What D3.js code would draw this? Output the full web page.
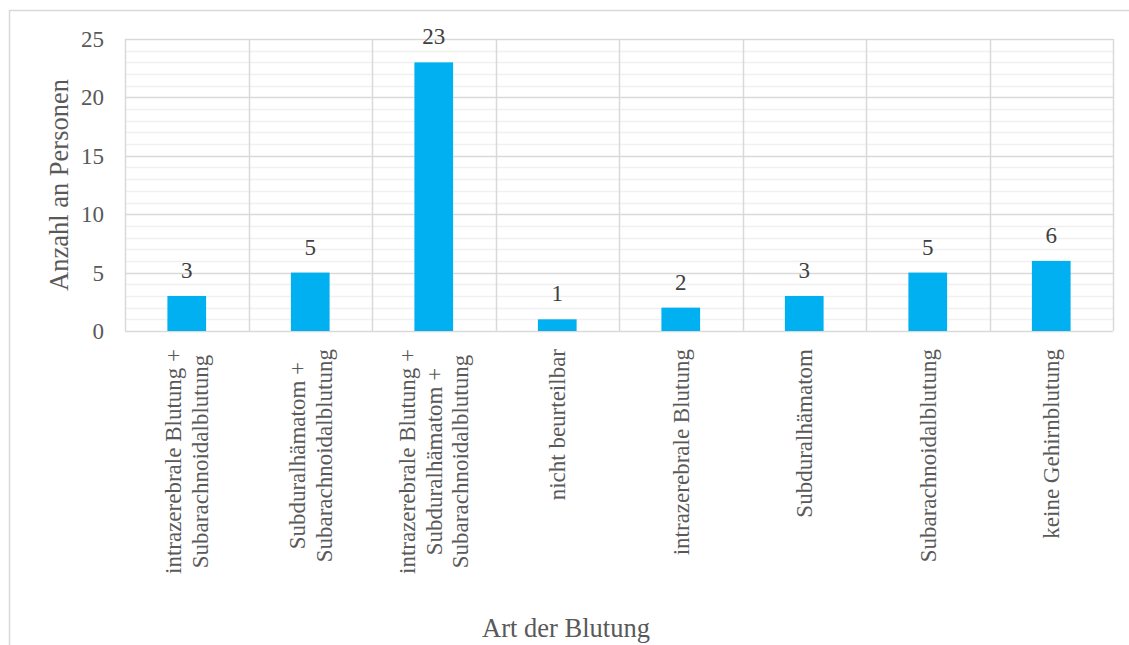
<!DOCTYPE html>
<meta charset="utf-8">
<script src="https://cdn.jsdelivr.net/npm/d3@7"></script>
<style>
  body { margin: 0; background: #fff; }
  text { font-family: "Liberation Serif", "Times New Roman", serif; fill: #595959; }
  .tick { font-size: 23px; }
  .val { font-size: 23px; text-anchor: middle; fill: #404040; }
  .cat { font-size: 23px; text-anchor: middle; }
  .title { font-size: 26.5px; text-anchor: middle; }
</style>
<svg width="1129" height="645"></svg>
<script>

// data
const categories = [
  ["intrazerebrale Blutung +", "Subarachnoidalblutung"],
  ["Subduralhämatom +", "Subarachnoidalblutung"],
  ["intrazerebrale Blutung +", "Subduralhämatom +", "Subarachnoidalblutung"],
  ["nicht beurteilbar"],
  ["intrazerebrale Blutung"],
  ["Subduralhämatom"],
  ["Subarachnoidalblutung"],
  ["keine Gehirnblutung"]
]
const counts = [3, 5, 23, 1, 2, 3, 5, 6]
const yTicks = [0, 5, 10, 15, 20, 25]

const svg = d3.select("svg")

// outer chart border (cut off at right / bottom)
svg.append("path")
  .attr("d", "M9.5,645 V10.5 H1129")
  .attr("fill", "none")
  .attr("stroke", "#d9d9d9")
  .attr("stroke-width", 1.5)

const m = {left: 125, top: 39, right: 1113, bottom: 331}
const idx = d3.range(categories.length)

const x = d3.scaleBand()
  .domain(idx)
  .range([m.left, m.right])
  .paddingInner(0.6866)
  .paddingOuter(0.3433)

const xBand = d3.scaleBand().domain(idx).range([m.left, m.right])

const y = d3.scaleLinear()
  .domain([0, 25])
  .range([m.bottom, m.top])

// minor gridlines
svg.append("g")
  .selectAll("line")
  .data(d3.range(1, 26).filter(d => d % 5 != 0))
  .join("line")
  .attr("x1", m.left).attr("x2", m.right)
  .attr("y1", d => Math.round(y(d)) + 0.5)
  .attr("y2", d => Math.round(y(d)) + 0.5)
  .attr("stroke", "#f0f0f0")
  .attr("stroke-width", 1.5)

// major gridlines
svg.append("g")
  .selectAll("line")
  .data(yTicks)
  .join("line")
  .attr("x1", m.left).attr("x2", m.right)
  .attr("y1", d => Math.round(y(d)) + 0.5)
  .attr("y2", d => Math.round(y(d)) + 0.5)
  .attr("stroke", "#d9d9d9")
  .attr("stroke-width", 1.5)

// vertical category lines
svg.append("g")
  .selectAll("line")
  .data(d3.range(categories.length + 1))
  .join("line")
  .attr("x1", d => Math.round(d < categories.length ? xBand(d) : m.right) + 0.5)
  .attr("x2", d => Math.round(d < categories.length ? xBand(d) : m.right) + 0.5)
  .attr("y1", m.top).attr("y2", m.bottom)
  .attr("stroke", "#d9d9d9")
  .attr("stroke-width", 1.5)

// y tick labels
svg.append("g")
  .selectAll("text")
  .data(yTicks)
  .join("text")
  .attr("class", "tick")
  .attr("x", 104)
  .attr("y", d => y(d) + 8)
  .attr("text-anchor", "end")
  .text(d => d)

// bars
svg.append("g")
  .selectAll("rect")
  .data(counts)
  .join("rect")
  .attr("x", (d, i) => x(i))
  .attr("width", x.bandwidth())
  .attr("y", d => y(d))
  .attr("height", d => y(0) - y(d))
  .attr("fill", "#00b0f0")

// value labels
svg.append("g")
  .selectAll("text")
  .data(counts)
  .join("text")
  .attr("class", "val")
  .attr("x", (d, i) => x(i) + x.bandwidth() / 2)
  .attr("y", d => y(d) - 18)
  .text(d => d)

// category labels, rotated
const lh = 26.7
categories.forEach((lines, i) => {
  const cx = xBand(i) + xBand.bandwidth() / 2
  const g = svg.append("g")
  const t = g.append("text").attr("class", "cat")
  lines.forEach((s, j) => {
    t.append("tspan")
      .attr("x", 0)
      .attr("y", (j - (lines.length - 1) / 2) * lh + 8)
      .text(s)
  })
  const w = d3.max(t.selectAll("tspan").nodes(), n => n.getComputedTextLength())
  g.attr("transform", `translate(${cx},${349 + w / 2}) rotate(-90)`)
})

// axis titles
svg.append("text")
  .attr("class", "title")
  .attr("transform", "translate(68,185) rotate(-90)")
  .text("Anzahl an Personen")

svg.append("text")
  .attr("class", "title")
  .attr("x", 566)
  .attr("y", 637)
  .text("Art der Blutung")
</script>
